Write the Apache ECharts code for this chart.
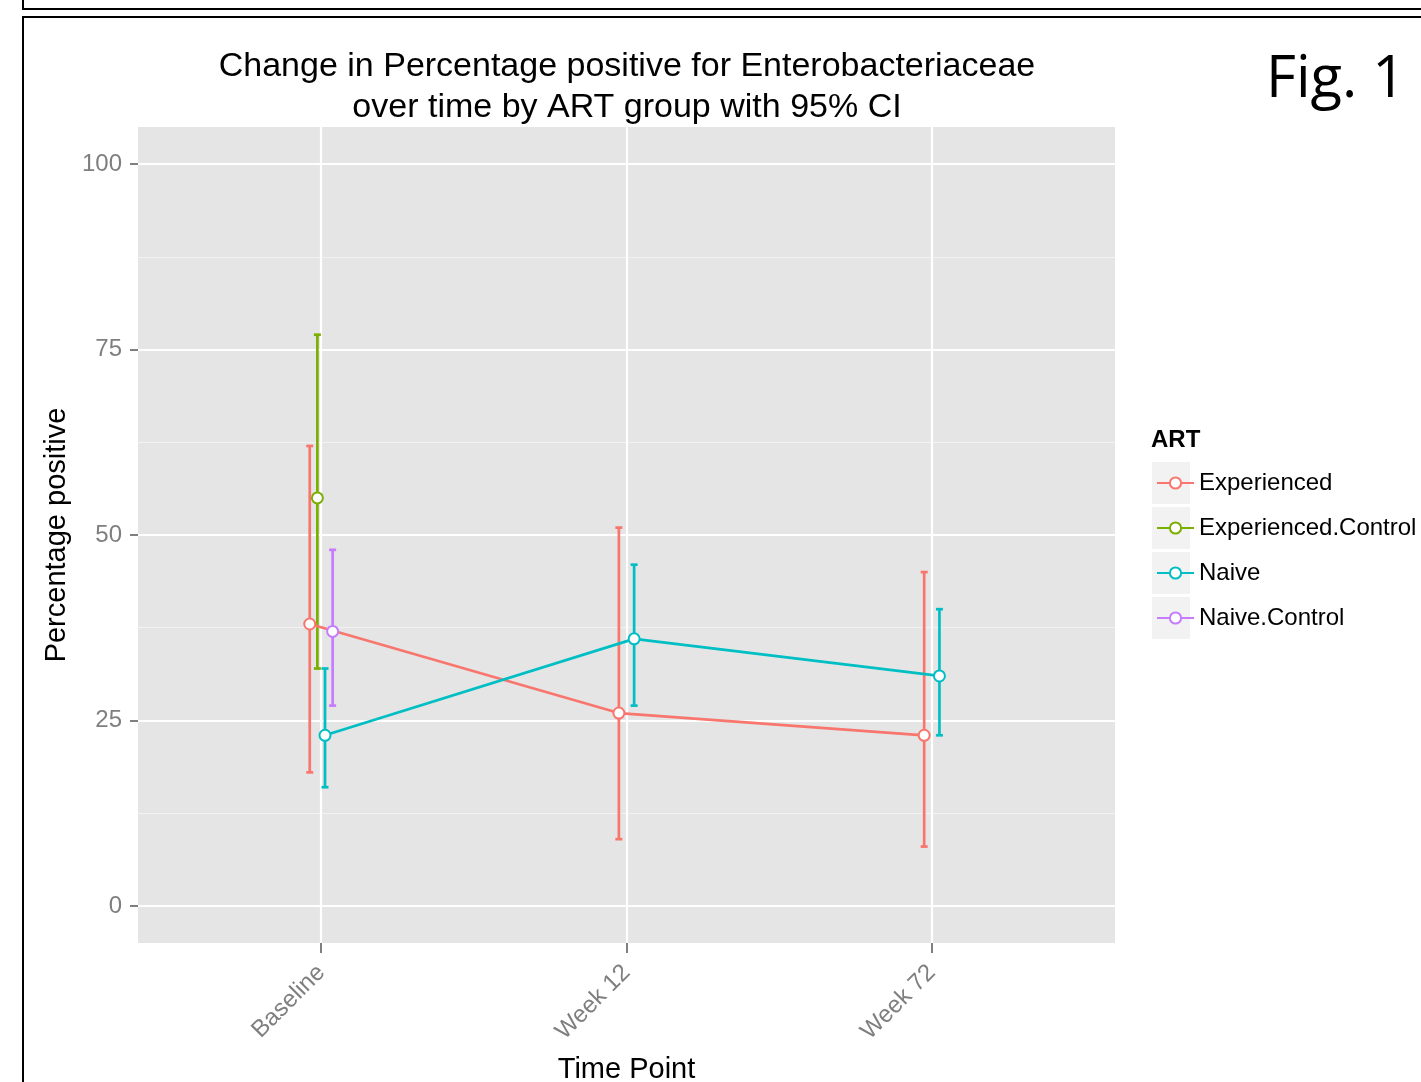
<!DOCTYPE html>
<html>
<head>
<meta charset="utf-8">
<script src="https://cdn.jsdelivr.net/npm/echarts@6/dist/echarts.min.js"></script>
<style>
  html, body { margin: 0; padding: 0; background: #fff; }
  #chart { width: 1421px; height: 1082px; }
</style>
</head>
<body>
<div id="chart"></div>
<script>
// time points (discrete x axis)
const timePoints = ['Baseline', 'Week 12', 'Week 72'];
const groups = ['Experienced', 'Experienced.Control', 'Naive', 'Naive.Control'];
const groupColors = ['#F8766D', '#7CAE00', '#00BFC4', '#C77CFF'];

// percentage positive and 95% CI, one value per time point (null = not measured)
const experiencedPct = [38, 26, 23];
const experiencedLo = [18, 9, 8];
const experiencedHi = [62, 51, 45];

const expControlPct = [55, null, null];
const expControlLo = [32, null, null];
const expControlHi = [77, null, null];

const naivePct = [23, 36, 31];
const naiveLo = [16, 27, 23];
const naiveHi = [32, 46, 40];

const naiveControlPct = [37, null, null];
const naiveControlLo = [27, null, null];
const naiveControlHi = [48, null, null];

const yMajorTicks = [0, 25, 50, 75, 100];
const yMinorTicks = [12.5, 37.5, 62.5, 87.5];

// dodge (position_dodge width 0.1) - offsets per group at each time point
const dodgeWidth = 0.1;

const pct = [experiencedPct, expControlPct, naivePct, naiveControlPct];
const lo = [experiencedLo, expControlLo, naiveLo, naiveControlLo];
const hi = [experiencedHi, expControlHi, naiveHi, naiveControlHi];

function dodgeX(g, t) {
  // groups present at this time point
  const present = [];
  for (let k = 0; k < groups.length; k++) {
    if (pct[k][t] != null) present.push(k);
  }
  const n = present.length;
  const idx = present.indexOf(g);
  return t + dodgeWidth * ((idx + 0.5) / n - 0.5);
}

function renderErrorBar(params, api) {
  const x = api.value(0);
  const pLo = api.coord([x, api.value(1)]);
  const pHi = api.coord([x, api.value(2)]);
  const hw = 3.5;
  const style = { stroke: api.visual('color'), lineWidth: 2.7 };
  return {
    type: 'group',
    children: [
      { type: 'line', shape: { x1: pLo[0], y1: pLo[1], x2: pHi[0], y2: pHi[1] }, style: style },
      { type: 'line', shape: { x1: pLo[0] - hw, y1: pLo[1], x2: pLo[0] + hw, y2: pLo[1] }, style: style },
      { type: 'line', shape: { x1: pHi[0] - hw, y1: pHi[1], x2: pHi[0] + hw, y2: pHi[1] }, style: style }
    ]
  };
}

let lineSeries = [];
let barSeries = [];
for (let g = 0; g < groups.length; g++) {
  let pts = [];
  let bars = [];
  for (let t = 0; t < timePoints.length; t++) {
    if (pct[g][t] == null) continue;
    const x = dodgeX(g, t);
    pts.push([x, pct[g][t]]);
    bars.push([x, lo[g][t], hi[g][t]]);
  }
  lineSeries.push({
    name: groups[g],
    type: 'line',
    data: pts,
    z: 4,
    symbol: 'emptyCircle',
    symbolSize: 11,
    itemStyle: { color: groupColors[g], borderWidth: 2 },
    lineStyle: { color: groupColors[g], width: 2.7 },
    emphasis: { disabled: true }
  });
  barSeries.push({
    name: groups[g],
    type: 'custom',
    data: bars,
    z: 3,
    itemStyle: { color: groupColors[g] },
    renderItem: renderErrorBar,
    encode: { x: 0, y: [1, 2] }
  });
}

const chart = echarts.init(document.getElementById('chart'), null, { renderer: 'canvas' });

const grey = '#7f7f7f';
const font = '"Liberation Sans", Arial, sans-serif';

const option = {
  animation: false,
  backgroundColor: '#fff',
  textStyle: { fontFamily: font },
  title: [
    {
      text: 'Change in Percentage positive for Enterobacteriaceae\nover time by ART group with 95% CI',
      left: 627,
      top: 46,
      padding: 0,
      textAlign: 'center',
      textStyle: { fontSize: 34, fontWeight: 'normal', color: '#000', lineHeight: 41, fontFamily: font }
    },
    {
      text: 'Fig. 1',
      left: 1266,
      top: 51,
      padding: 0,
      textStyle: { fontSize: 58, fontWeight: 'normal', color: '#000', fontFamily: '"Open Sans", sans-serif' }
    },
    {
      text: 'ART',
      left: 1151,
      top: 428,
      padding: 0,
      textStyle: { fontSize: 24, fontWeight: 'bold', color: '#000', fontFamily: font }
    }
  ],
  legend: {
    data: groups,
    orient: 'vertical',
    left: 1156,
    top: 469,
    padding: 0,
    itemWidth: 37,
    itemHeight: 14,
    itemGap: 17,
    textStyle: { fontSize: 24, color: '#000', lineHeight: 28, fontFamily: font }
  },
  graphic: [
    { type: 'polyline', shape: { points: [[23, 0], [23, 9], [1421, 9]] }, style: { stroke: '#000', lineWidth: 2, fill: null } },
    { type: 'polyline', shape: { points: [[1421, 17], [23, 17], [23, 1082]] }, style: { stroke: '#000', lineWidth: 2, fill: null } },
    { type: 'rect', shape: { x: 1152, y: 462, width: 38, height: 42 }, style: { fill: '#f2f2f2' }, z: -1 },
    { type: 'rect', shape: { x: 1152, y: 507, width: 38, height: 42 }, style: { fill: '#f2f2f2' }, z: -1 },
    { type: 'rect', shape: { x: 1152, y: 552, width: 38, height: 42 }, style: { fill: '#f2f2f2' }, z: -1 },
    { type: 'rect', shape: { x: 1152, y: 597, width: 38, height: 42 }, style: { fill: '#f2f2f2' }, z: -1 }
  ],
  grid: {
    left: 138,
    right: 306,
    top: 127,
    bottom: 139,
    show: true,
    backgroundColor: '#e5e5e5',
    borderWidth: 0,
    containLabel: false,
    outerBoundsMode: 'none'
  },
  xAxis: {
    type: 'value',
    min: -0.6,
    max: 2.6,
    name: 'Time Point',
    nameLocation: 'middle',
    nameGap: 112,
    nameTextStyle: { fontSize: 29, color: '#000' },
    axisLine: { show: false, onZero: false },
    axisTick: { show: true, length: 10, customValues: [0, 1, 2], lineStyle: { color: grey, width: 2 } },
    axisLabel: {
      customValues: [0, 1, 2],
      formatter: function (v) { return timePoints[Math.round(v)]; },
      rotate: 45,
      margin: 26,
      fontSize: 24,
      color: grey
    },
    splitLine: { show: true, lineStyle: { color: '#fff', width: 2.2 } }
  },
  yAxis: [
    {
      type: 'value',
      min: -5,
      max: 105,
      name: 'Percentage positive',
      nameLocation: 'middle',
      nameGap: 55,
      nameTextStyle: { fontSize: 29, color: '#000' },
      axisLine: { show: false, onZero: false },
      axisTick: { show: true, length: 8, customValues: yMajorTicks, lineStyle: { color: grey, width: 2 } },
      axisLabel: { customValues: yMajorTicks, margin: 16, fontSize: 24, color: grey },
      splitLine: { show: true, lineStyle: { color: '#fff', width: 2.2 } }
    },
    {
      type: 'value',
      min: -5,
      max: 105,
      position: 'left',
      offset: 0,
      axisLine: { show: false, onZero: false },
      axisTick: { show: false, customValues: yMinorTicks },
      axisLabel: { show: false, customValues: yMinorTicks },
      splitLine: { show: true, lineStyle: { color: '#f2f2f2', width: 1 } }
    }
  ],
  series: lineSeries.concat(barSeries)
};

chart.setOption(option);
</script>
</body>
</html>
